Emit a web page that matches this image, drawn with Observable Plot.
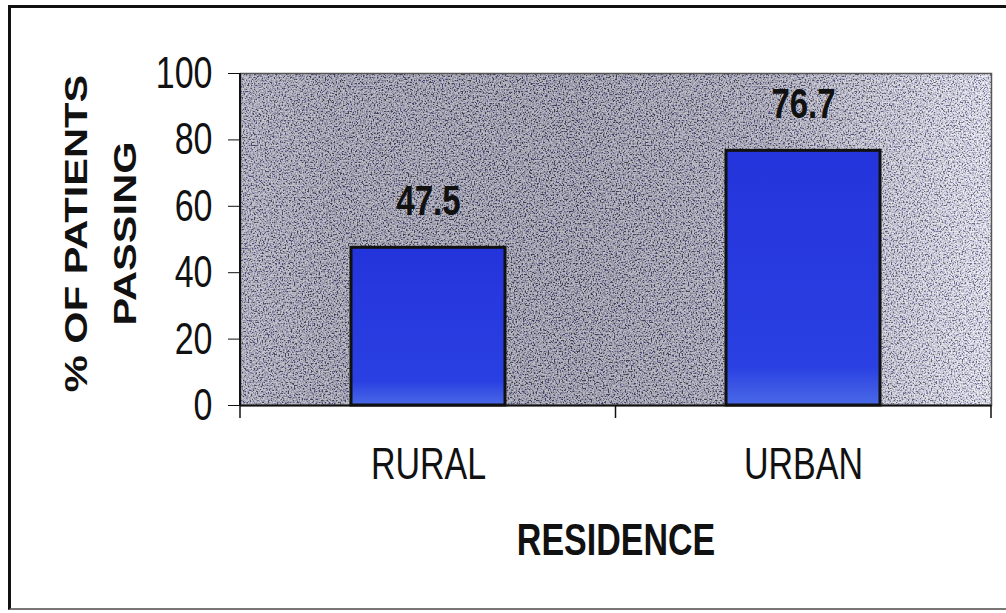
<!DOCTYPE html>
<html>
<head>
<meta charset="utf-8">
<script src="https://cdn.jsdelivr.net/npm/d3@7"></script>
<script src="https://cdn.jsdelivr.net/npm/@observablehq/plot@0.6"></script>
<style>
  html, body { margin: 0; padding: 0; background: #fff; overflow: hidden; }
  #wrap { position: relative; width: 1006px; height: 613px; }
  #border { position: absolute; left: 8px; top: 5px; width: 1010px; height: 600px;
    border-left: 3px solid #111; border-top: 3px solid #111; border-bottom: 2px solid #777;
    pointer-events: none; }
</style>
</head>
<body>
<div id="wrap"><div id="border"></div></div>
<script>
const categories = ["RURAL", "URBAN"];
const values = [47.5, 76.7];
const yTicks = [0, 20, 40, 60, 80, 100];
const xTitle = "RESIDENCE";
const yTitle = "% OF PATIENTS\nPASSING";

const data = categories.map((c, i) => ({cat: c, val: values[i]}));
const font = "'Liberation Sans', Arial, sans-serif";

const chart = Plot.plot({
  width: 1006,
  height: 613,
  marginLeft: 240,
  marginRight: 15,
  marginTop: 73,
  marginBottom: 208,
  style: {fontFamily: font, color: "#111", background: "transparent"},
  x: {domain: categories, paddingInner: 0.59, paddingOuter: 0.295, label: null},
  y: {domain: [0, 100], label: null},
  marks: [
    Plot.frame({fill: "url(#bgGrad)", stroke: "none"}),
    Plot.frame({fill: "white", stroke: "none"}),
    Plot.frame({stroke: "#555", strokeWidth: 1.5}),
    Plot.barY(data, {x: "cat", y: "val", fill: "url(#barGrad)", stroke: "#111", strokeWidth: 3}),
    Plot.text(data, {x: "cat", y: "val", text: d => d.val.toFixed(1), dy: -47,
      fontSize: 33, fontWeight: "bold", fill: "#111"}),
    Plot.ruleY([0], {stroke: "#111", strokeWidth: 2}),
    Plot.axisY({ticks: yTicks, tickSize: 12, tickPadding: 16, fontSize: 34, label: null, stroke: "#111"}),
    Plot.axisX({tickSize: 0, tickPadding: 59, fontSize: 34, lineAnchor: "middle", label: null}),
    Plot.text([xTitle], {frameAnchor: "bottom", dy: 135, fontSize: 34, fontWeight: "bold", lineAnchor: "middle", fill: "#111"}),
    Plot.text([yTitle], {frameAnchor: "left", dx: -145, dy: -6, rotate: -90, fontSize: 32,
      fontWeight: "bold", lineHeight: 1.55, textAnchor: "middle", fill: "#111"})
  ]
});

document.getElementById("wrap").insertBefore(chart, document.getElementById("border"));

const svg = d3.select(chart);
const defs = svg.insert("defs", ":first-child");
const g = defs.append("linearGradient").attr("id", "bgGrad").attr("x1", 0).attr("x2", 1).attr("y1", 0).attr("y2", 0);
[[0, "#9a9aa2"], [0.12, "#84848c"], [0.45, "#7c7c84"], [0.7, "#8e8e96"], [0.85, "#bcbcc2"], [1, "#e8e8ec"]]
  .forEach(([o, c]) => g.append("stop").attr("offset", o).attr("stop-color", c));
const bg = defs.append("linearGradient").attr("id", "barGrad").attr("x1", 0).attr("x2", 0).attr("y1", 0).attr("y2", 1);
[[0, "#2434dc"], [0.85, "#2a40e2"], [1, "#4a6ae6"]]
  .forEach(([o, c]) => bg.append("stop").attr("offset", o).attr("stop-color", c));
const f = defs.append("filter").attr("id", "noise").attr("x", 0).attr("y", 0).attr("width", 1).attr("height", 1);
f.append("feTurbulence").attr("type", "fractalNoise").attr("baseFrequency", 0.65).attr("numOctaves", 2).attr("seed", 4);
f.append("feColorMatrix").attr("type", "saturate").attr("values", 0);
const ct = f.append("feComponentTransfer");
ct.append("feFuncR").attr("type", "linear").attr("slope", 4).attr("intercept", -1.5);
ct.append("feFuncG").attr("type", "linear").attr("slope", 4).attr("intercept", -1.5);
ct.append("feFuncB").attr("type", "linear").attr("slope", 4).attr("intercept", -1.35);
ct.append("feFuncA").attr("type", "linear").attr("slope", 0).attr("intercept", 0.5);

const frames = chart.querySelectorAll('[aria-label="frame"]');
if (frames.length > 1) frames[1].setAttribute("filter", "url(#noise)");

// axis lines and category-boundary ticks from the scales
const xs = chart.scale("x"), ys = chart.scale("y");
const [x0, x1] = xs.range;
const yBottom = ys.range[0], yTop = ys.range[1];
const extra = svg.append("g").attr("stroke", "#111");
extra.append("line").attr("x1", x0).attr("x2", x0).attr("y1", yTop).attr("y2", yBottom).attr("stroke-width", 2);
const n = categories.length;
for (let k = 0; k <= n; k++) {
  const bx = x0 + k * (x1 - x0) / n;
  extra.append("line").attr("x1", bx).attr("x2", bx).attr("y1", yBottom).attr("y2", yBottom + 13).attr("stroke-width", 1.5);
}

// vertical stretch of text, as in the reference
const S = 1.3;
chart.querySelectorAll("text").forEach(t => {
  const b = t.getBBox();
  const cx = b.x + b.width / 2, cy = b.y + b.height / 2;
  const tr = t.getAttribute("transform") || "";
  const sc = /rotate/.test(tr) ? `scale(${S},1)` : `scale(1,${S})`;
  t.setAttribute("transform", `${tr} translate(${cx},${cy}) ${sc} translate(${-cx},${-cy})`);
});
</script>
</body>
</html>
